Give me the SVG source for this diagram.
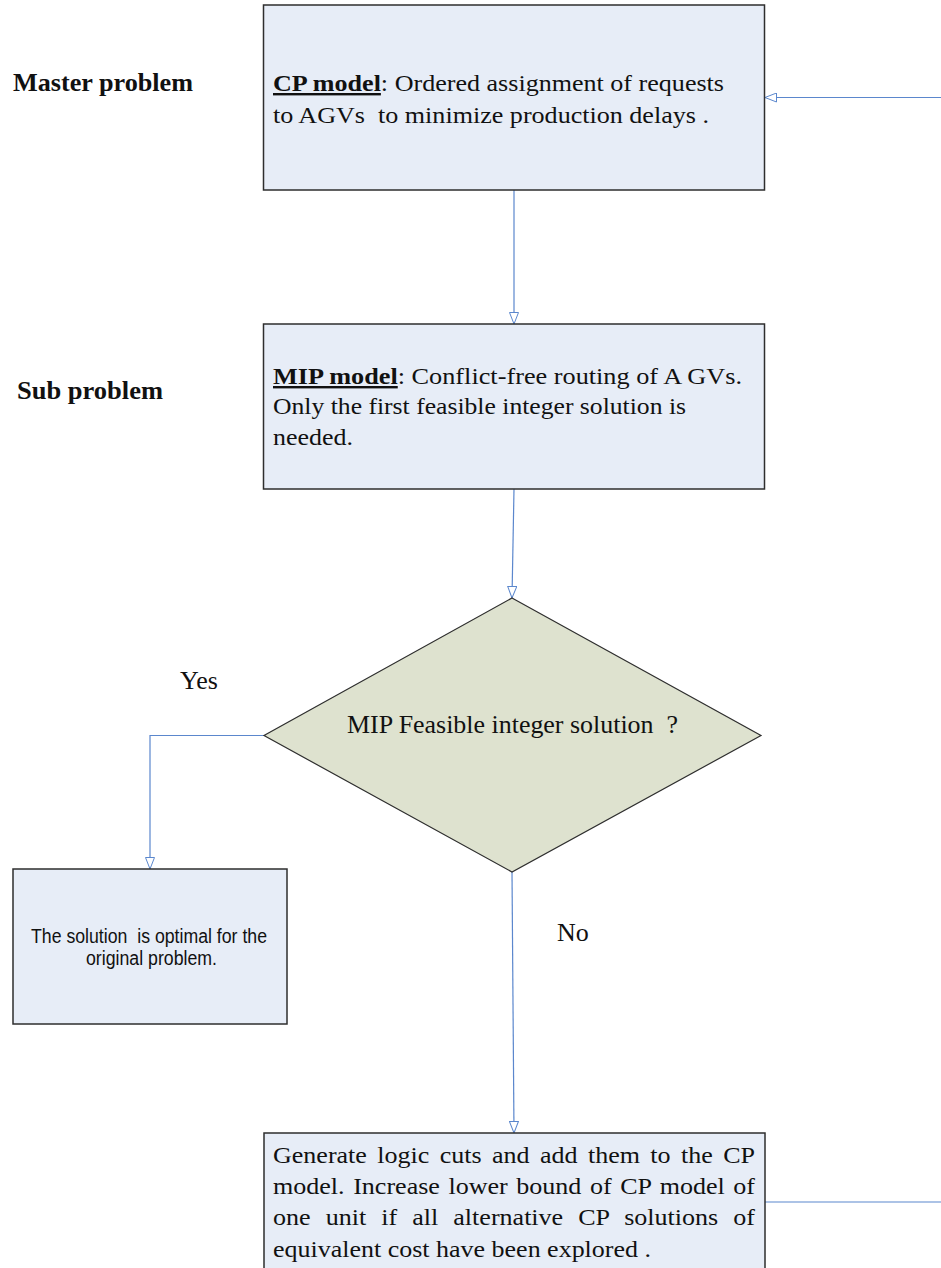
<svg xmlns="http://www.w3.org/2000/svg" width="941" height="1268" viewBox="0 0 941 1268">
<style>
.box{fill:#e7edf7;stroke:#2e2e2e;stroke-width:1.5}
.dia{fill:#dee2cf;stroke:#2e2e2e;stroke-width:1.2}
.conn{fill:none;stroke:#5b87cd;stroke-width:1.2}
.t{font-family:"Liberation Serif","Times New Roman",Tinos,serif;fill:#111}
.b{font-weight:bold}
.s{font-family:"Liberation Sans",Arial,sans-serif;fill:#111}
</style>
<defs>
<marker id="ah" viewBox="0 0 12 10" refX="12" refY="5" markerWidth="12" markerHeight="10" markerUnits="userSpaceOnUse" orient="auto">
<path d="M0.5,0.5 L12,5 L0.5,9.5 Z" fill="#ffffff" stroke="#5b87cd" stroke-width="1"/>
</marker>
</defs>
<rect width="941" height="1268" fill="#ffffff"/>

<g id="labels">
<text class="t b" x="13" y="91" font-size="26" textLength="180" lengthAdjust="spacingAndGlyphs">Master problem</text>
<text class="t b" x="17" y="399" font-size="25" textLength="146" lengthAdjust="spacingAndGlyphs">Sub problem</text>
<text class="t" x="180" y="689" font-size="26">Yes</text>
<text class="t" x="557" y="941" font-size="26">No</text>
</g>

<g id="connectors">
<path class="conn" d="M941,97.5 L765,97.5" marker-end="url(#ah)"/>
<path class="conn" d="M514,190 L514,324" marker-end="url(#ah)"/>
<path class="conn" d="M514,489 L512,598" marker-end="url(#ah)"/>
<path class="conn" d="M264,735.5 L150,735.5 L150,869" marker-end="url(#ah)"/>
<path class="conn" d="M512,872 L514,1133" marker-end="url(#ah)"/>
<path class="conn" d="M765,1202 L941,1202"/>
</g>

<g id="cp-model">
<rect class="box" x="263.5" y="5" width="501" height="185"/>
<text class="t" x="273" y="91" font-size="24" textLength="451" lengthAdjust="spacingAndGlyphs"><tspan class="b" text-decoration="underline">CP model</tspan>: Ordered assignment of requests</text>
<text class="t" x="273" y="123" font-size="24" textLength="436" lengthAdjust="spacingAndGlyphs" xml:space="preserve">to AGVs  to minimize production delays .</text>
</g>

<g id="mip-model">
<rect class="box" x="263.5" y="324" width="501" height="165"/>
<text class="t" x="273" y="384" font-size="24" textLength="469" lengthAdjust="spacingAndGlyphs"><tspan class="b" text-decoration="underline">MIP model</tspan>: Conflict-free routing of A GVs.</text>
<text class="t" x="273" y="414" font-size="24" textLength="413" lengthAdjust="spacingAndGlyphs">Only the first feasible integer solution is</text>
<text class="t" x="273" y="445" font-size="24" textLength="80" lengthAdjust="spacingAndGlyphs">needed.</text>
</g>

<g id="decision">
<polygon class="dia" points="512,598 761,735.5 512,872 264,735.5"/>
<text class="t" x="347" y="733" font-size="26" textLength="331" lengthAdjust="spacingAndGlyphs" xml:space="preserve">MIP Feasible integer solution  ?</text>
</g>

<g id="optimal">
<rect class="box" x="13" y="869" width="274" height="155"/>
<text class="s" x="31" y="943" font-size="20" textLength="236" lengthAdjust="spacingAndGlyphs" xml:space="preserve">The solution  is optimal for the</text>
<text class="s" x="86" y="965" font-size="20" textLength="131" lengthAdjust="spacingAndGlyphs">original problem.</text>
</g>

<g id="logic-cuts">
<rect class="box" x="264" y="1133" width="501" height="145"/>
<text class="t" x="273" y="1163" font-size="24" word-spacing="3.6" textLength="482" lengthAdjust="spacingAndGlyphs">Generate logic cuts and add them to the CP</text>
<text class="t" x="273" y="1194" font-size="24" word-spacing="1.9" textLength="482" lengthAdjust="spacingAndGlyphs">model. Increase lower bound of CP model of</text>
<text class="t" x="273" y="1225" font-size="24" word-spacing="7.9" textLength="482" lengthAdjust="spacingAndGlyphs">one unit if all alternative CP solutions of</text>
<text class="t" x="273" y="1257" font-size="24" textLength="378" lengthAdjust="spacingAndGlyphs">equivalent cost have been explored .</text>
</g>
</svg>
